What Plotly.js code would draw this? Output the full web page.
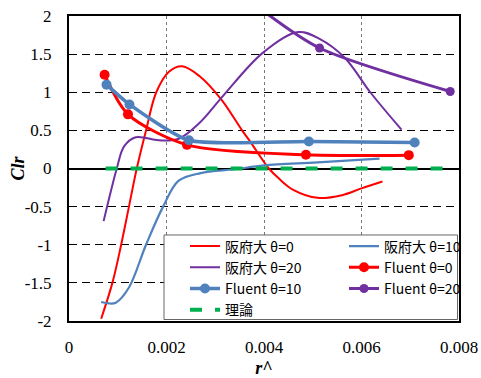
<!DOCTYPE html>
<html>
<head>
<meta charset="utf-8">
<script src="https://cdn.plot.ly/plotly-3.0.1.min.js"></script>
<style>html,body{margin:0;padding:0;background:#fff;}#chart{width:481px;height:378px;}</style>
</head>
<body>
<div id="chart"></div>
<script>
// 阪府大 θ=0
const osaka0X = [0.00066, 0.00089, 0.00107, 0.00123, 0.00139, 0.00158, 0.00179, 0.00205, 0.00232, 0.00268, 0.00313, 0.00355, 0.00371, 0.0041, 0.00432, 0.0046, 0.0051, 0.0056, 0.006, 0.00643];
const osaka0Y = [-1.97, -1.5, -1.0, -0.5, 0.0, 0.5, 1.0, 1.27, 1.34, 1.21, 0.90, 0.5, 0.36, 0.0, -0.14, -0.28, -0.385, -0.35, -0.26, -0.17];
// 阪府大 θ=10
const osaka10X = [0.00066, 0.00082, 0.00096, 0.00123, 0.00158, 0.00193, 0.00225, 0.0027, 0.0034, 0.004, 0.0051, 0.00637];
const osaka10Y = [-1.75, -1.77, -1.76, -1.56, -1.0, -0.5, -0.16, -0.06, -0.01, 0.04, 0.08, 0.13];
// 阪府大 θ=20
const osaka20X = [0.00071, 0.00087, 0.00098, 0.00113, 0.00137, 0.00184, 0.00225, 0.00268, 0.00313, 0.00398, 0.0047, 0.00514, 0.00566, 0.00618, 0.00682];
const osaka20Y = [-0.69, -0.27, 0.0, 0.29, 0.41, 0.37, 0.39, 0.60, 0.93, 1.52, 1.79, 1.70, 1.45, 1.0, 0.51];
// Fluent θ=0
const fluent0X = [0.00073, 0.00121, 0.00242, 0.00486, 0.00697];
const fluent0Y = [1.23, 0.71, 0.31, 0.18, 0.175];
// Fluent θ=10
const fluent10X = [0.00077, 0.00124, 0.00246, 0.00492, 0.00709];
const fluent10Y = [1.10, 0.84, 0.37, 0.355, 0.34];
// Fluent θ=20
const fluent20X = [0.0040, 0.00514, 0.00782];
const fluent20Y = [2.06, 1.58, 1.01];
// 理論
const theoryX = [0.00075, 0.00775];
const theoryY = [0, 0];

const xTickVals = [0, 0.002, 0.004, 0.006, 0.008];
const xTickText = ['0', '0.002', '0.004', '0.006', '0.008'];
const yTickVals = [-2, -1.5, -1, -0.5, 0, 0.5, 1, 1.5, 2];
const yTickText = ['-2', '-1.5', '-1', '-0.5', '0', '0.5', '1', '1.5', '2'];
const xTitle = 'r^';
const yTitle = 'Clr';

const names = ['阪府大 θ=0', '阪府大 θ=10', '阪府大 θ=20', 'Fluent θ=0', 'Fluent θ=10', 'Fluent θ=20', '理論'];

const RED = '#FF0000', BLUE = '#4F81BD', BLUE2 = '#4F81BD', PURPLE = '#7030A0', GREEN = '#00B050';

const traces = [
  {x: osaka0X, y: osaka0Y, name: names[0], legend: 'legend', mode: 'lines', line: {color: RED, width: 2, shape: 'spline'}},
  {x: osaka10X, y: osaka10Y, name: names[1], legend: 'legend2', mode: 'lines', line: {color: BLUE, width: 2.2, shape: 'spline'}},
  {x: osaka20X, y: osaka20Y, name: names[2], legend: 'legend', mode: 'lines', line: {color: PURPLE, width: 2, shape: 'spline'}},
  {x: fluent0X, y: fluent0Y, name: names[3], legend: 'legend2', mode: 'lines+markers', line: {color: RED, width: 3, shape: 'spline', smoothing: 0.8}, marker: {color: RED, size: 10}},
  {x: fluent10X, y: fluent10Y, name: names[4], legend: 'legend', mode: 'lines+markers', line: {color: BLUE2, width: 3.5, shape: 'spline', smoothing: 0.6}, marker: {color: BLUE2, size: 10}},
  {x: fluent20X, y: fluent20Y, name: names[5], legend: 'legend2', mode: 'lines+markers', line: {color: PURPLE, width: 3, shape: 'spline', smoothing: 0.8}, marker: {color: PURPLE, size: 9}},
  {x: theoryX, y: theoryY, name: names[6], legend: 'legend', mode: 'lines', line: {color: GREEN, width: 4, dash: '12px,13px'}}
];

const tickFont = {family: 'Liberation Serif', size: 17, color: '#000'};
const titleFont = {family: 'Liberation Serif', size: 18, color: '#000', weight: 'bold', style: 'italic'};
const legendFont = {family: 'Noto Sans CJK JP', size: 14, color: '#000'};

const legendCommon = {
  orientation: 'v', xanchor: 'left', yanchor: 'top',
  bgcolor: 'rgba(0,0,0,0)', borderwidth: 0,
  font: legendFont, traceorder: 'normal', tracegroupgap: 0
};

const layout = {
  width: 481, height: 378,
  margin: {l: 69, r: 22, t: 16, b: 57},
  paper_bgcolor: '#fff', plot_bgcolor: '#fff',
  showlegend: true,
  xaxis: {
    range: [0, 0.008], tickvals: xTickVals, ticktext: xTickText,
    showgrid: true, gridcolor: '#777', griddash: 'dot', gridwidth: 1,
    showline: true, mirror: true, linecolor: '#000', linewidth: 2,
    zeroline: false, ticks: '', tickfont: tickFont, ticklabelstandoff: 10,
    title: {text: xTitle, font: titleFont, standoff: 6},
    fixedrange: true
  },
  yaxis: {
    range: [-2, 2], tickvals: yTickVals, ticktext: yTickText,
    showgrid: true, gridcolor: '#000', griddash: '8px,5px', gridwidth: 1,
    showline: true, mirror: true, linecolor: '#000', linewidth: 2,
    zeroline: true, zerolinecolor: '#000', zerolinewidth: 2,
    ticks: '', tickfont: tickFont, ticklabelstandoff: 12,
    fixedrange: true
  },
  annotations: [{
    text: yTitle, xref: 'paper', yref: 'paper', x: -0.1333, y: 0.5,
    xanchor: 'center', yanchor: 'middle', textangle: -90, showarrow: false,
    font: titleFont
  }],
  shapes: [{
    type: 'rect', xref: 'paper', yref: 'paper', layer: 'above',
    x0: 0.2436, x1: 0.9962, y0: 0.0049, y1: 0.282,
    fillcolor: '#fff', line: {color: '#666', width: 1}
  }],
  legend: Object.assign({}, legendCommon, {x: 0.2974, y: 0.2967}),
  legend2: Object.assign({}, legendCommon, {x: 0.7051, y: 0.2967})
};

Plotly.newPlot('chart', traces, layout, {displayModeBar: false, staticPlot: true});
</script>
</body>
</html>
